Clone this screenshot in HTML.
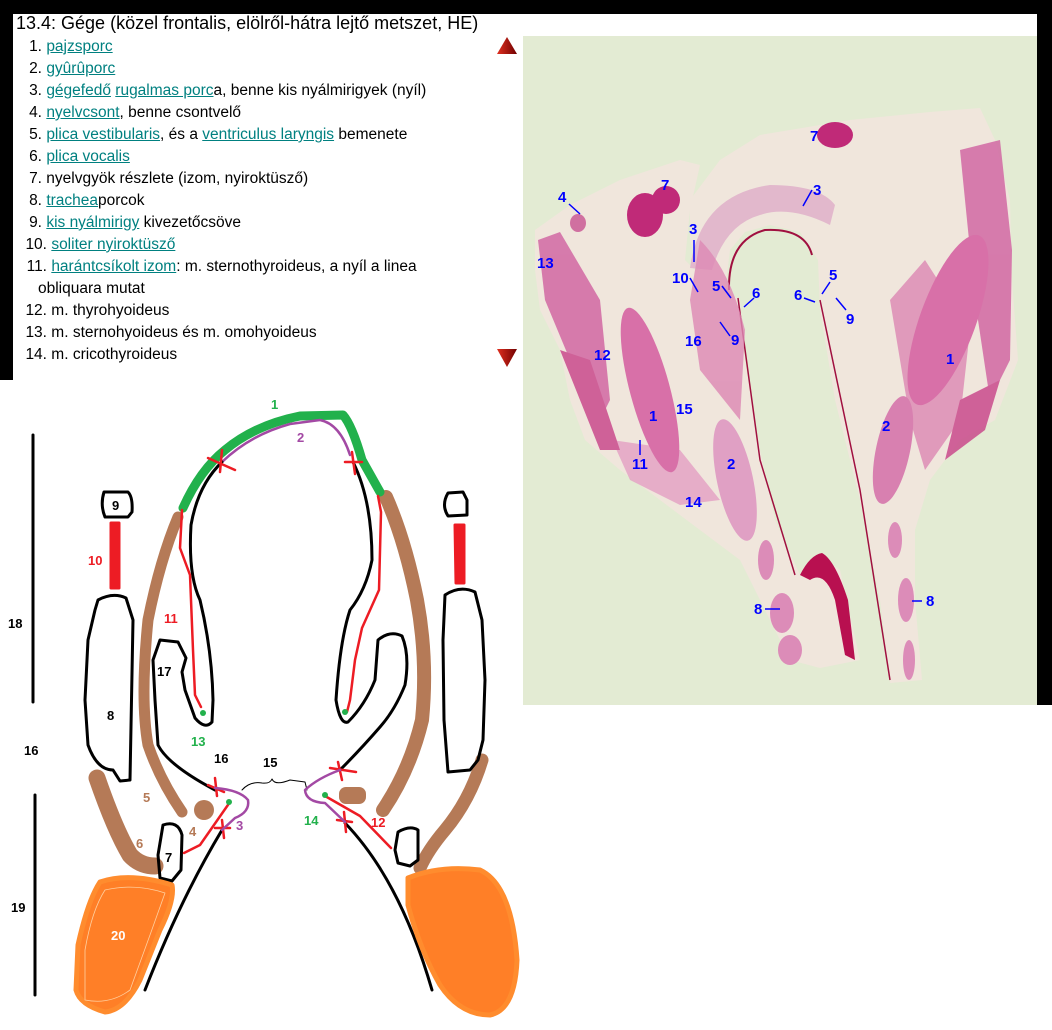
<!DOCTYPE html>
<html><head><meta charset="utf-8">
<style>
body{margin:0;width:1052px;height:1030px;background:#fff;position:relative;overflow:hidden;font-family:"Liberation Sans",sans-serif}
.blk{position:absolute;background:#000}
.t{position:absolute;font-size:15.5px;color:#000;white-space:nowrap;line-height:18px}
.t .n{display:inline-block;width:30px;text-align:right}
a{color:#008080;text-decoration:underline}
svg{position:absolute;left:0;top:0}
</style></head><body>
<div class="blk" style="left:0;top:0;width:1052px;height:14px"></div>
<div class="blk" style="left:0;top:0;width:13px;height:380px"></div>
<div class="blk" style="left:1037px;top:0;width:15px;height:705px"></div>
<div class="t" style="left:16px;top:13px;font-size:18px;line-height:20px">13.4: Gége (közel frontalis, elölről-hátra lejtő metszet, HE)</div>
<div>
<div class="t" style="left:12px;top:38px"><span class="n">1.</span> <a>pajzsporc</a></div>
<div class="t" style="left:12px;top:60px"><span class="n">2.</span> <a>gyûrûporc</a></div>
<div class="t" style="left:12px;top:82px"><span class="n">3.</span> <a>gégefedő</a> <a>rugalmas porc</a>a, benne kis nyálmirigyek (nyíl)</div>
<div class="t" style="left:12px;top:104px"><span class="n">4.</span> <a>nyelvcsont</a>, benne csontvelő</div>
<div class="t" style="left:12px;top:126px"><span class="n">5.</span> <a>plica vestibularis</a>, és a <a>ventriculus laryngis</a> bemenete</div>
<div class="t" style="left:12px;top:148px"><span class="n">6.</span> <a>plica vocalis</a></div>
<div class="t" style="left:12px;top:170px"><span class="n">7.</span> nyelvgyök részlete (izom, nyiroktüsző)</div>
<div class="t" style="left:12px;top:192px"><span class="n">8.</span> <a>trachea</a>porcok</div>
<div class="t" style="left:12px;top:214px"><span class="n">9.</span> <a>kis nyálmirigy</a> kivezetőcsöve</div>
<div class="t" style="left:17px;top:236px"><span class="n">10.</span> <a>soliter nyiroktüsző</a></div>
<div class="t" style="left:17px;top:258px"><span class="n">11.</span> <a>harántcsíkolt izom</a>: m. sternothyroideus, a nyíl a linea</div>
<div class="t" style="left:38px;top:280px">obliquara mutat</div>
<div class="t" style="left:17px;top:302px"><span class="n">12.</span> m. thyrohyoideus</div>
<div class="t" style="left:17px;top:324px"><span class="n">13.</span> m. sternohyoideus és m. omohyoideus</div>
<div class="t" style="left:17px;top:346px"><span class="n">14.</span> m. cricothyroideus</div>
</div>
<svg width="1052" height="1030">
<defs>
<linearGradient id="tri" x1="0" x2="1"><stop offset="0" stop-color="#e03020"/><stop offset="1" stop-color="#700000"/></linearGradient>
</defs>
<polygon points="507,37 497,54 517,54" fill="url(#tri)"/>
<polygon points="497,349 517,349 507,367" fill="url(#tri)"/>
<g>
<rect x="523" y="36" width="514" height="669" fill="#e3ebd3"/>
<path fill="#f0e6dc" d="M535,230 L570,205 L620,180 L680,160 L700,165 L690,210 L685,260 L700,275 L725,290 L740,300 L745,360 L760,450 L775,520 L800,575 L820,555 L840,570 L860,660 L820,668 L790,660 L770,620 L740,560 L700,530 L660,500 L620,470 L585,440 L570,400 L560,350 L540,310 L535,270Z"/>
<path fill="#f0e6dc" d="M690,200 L720,160 L760,135 L850,120 L930,112 L980,108 L995,140 L1010,200 L1012,280 L1018,360 L995,420 L960,440 L930,480 L915,530 L915,600 L922,680 L890,683 L880,600 L860,500 L835,400 L820,310 L818,260 L800,232 L770,225 L745,232 L730,250 L725,290 L700,275 L690,240Z"/>
<path d="M690,268 Q700,195 770,185 Q820,185 835,205 L830,225 Q790,205 760,215 Q725,225 712,270Z" fill="#e2b8cc"/>
<path d="M729,290 Q728,240 765,230 Q805,228 812,255" fill="none" stroke="#a01040" stroke-width="2"/>
<path d="M738,298 L760,460 L795,575 M820,300 L860,490 L890,680" fill="none" stroke="#a01040" stroke-width="1.5"/>
<g fill="#c02a78">
<ellipse cx="645" cy="215" rx="18" ry="22"/>
<ellipse cx="666" cy="200" rx="14" ry="14"/>
<ellipse cx="835" cy="135" rx="18" ry="13"/>
<ellipse cx="578" cy="223" rx="8" ry="9" fill="#d070a0"/>
</g>
<g fill="#d060a0" opacity="0.8">
<path d="M538,240 L560,232 L600,300 L610,400 L600,420 L570,360 L545,300Z"/>
<path d="M960,150 L1000,140 L1012,250 L1010,360 L990,400 L975,300Z"/>
<path d="M700,240 Q730,270 745,330 L740,420 L700,370 L690,300Z" fill="#dd88b4"/>
<path d="M612,440 L680,450 L720,500 L680,505 L630,480Z" fill="#e4a0c4"/>
<path d="M925,260 L970,330 L960,420 L925,470 L910,420 L890,300Z" fill="#dd88b4"/>
<path d="M560,350 L590,360 L620,450 L600,450Z" fill="#c84088"/>
<path d="M960,400 L1000,380 L985,430 L945,460Z" fill="#c84088"/>
</g>
<ellipse cx="650" cy="390" rx="20" ry="85" transform="rotate(-15 650 390)" fill="#d870a8"/>
<ellipse cx="948" cy="320" rx="28" ry="90" transform="rotate(20 948 320)" fill="#d870a8"/>
<ellipse cx="735" cy="480" rx="18" ry="62" transform="rotate(-12 735 480)" fill="#e0a0c4"/>
<ellipse cx="893" cy="450" rx="17" ry="55" transform="rotate(12 893 450)" fill="#d880b0"/>
<g fill="#dc8cb8">
<ellipse cx="766" cy="560" rx="8" ry="20"/><ellipse cx="782" cy="613" rx="12" ry="20"/><ellipse cx="790" cy="650" rx="12" ry="15"/>
<ellipse cx="895" cy="540" rx="7" ry="18"/><ellipse cx="906" cy="600" rx="8" ry="22"/><ellipse cx="909" cy="660" rx="6" ry="20"/>
</g>
<path d="M800,575 Q810,555 822,553 Q835,560 848,600 L855,660 L845,655 L835,600 Q825,570 810,580Z" fill="#b81050"/>
<g font-family="Liberation Sans,sans-serif" font-weight="bold" font-size="15" fill="#0000ff">
<text x="558" y="202">4</text><text x="661" y="190">7</text><text x="810" y="141">7</text><text x="813" y="195">3</text><text x="689" y="234">3</text>
<text x="537" y="268">13</text><text x="672" y="283">10</text><text x="712" y="291">5</text><text x="752" y="298">6</text><text x="829" y="280">5</text><text x="794" y="300">6</text>
<text x="731" y="345">9</text><text x="846" y="324">9</text><text x="685" y="346">16</text><text x="594" y="360">12</text><text x="946" y="364">1</text>
<text x="649" y="421">1</text><text x="676" y="414">15</text><text x="882" y="431">2</text><text x="632" y="469">11</text><text x="727" y="469">2</text>
<text x="685" y="507">14</text><text x="754" y="614">8</text><text x="926" y="606">8</text>
</g>
<g stroke="#0000ff" stroke-width="1.5" fill="none">
<path d="M569,204 L580,214 M690,278 L698,292 M722,286 L731,298 M754,298 L744,307 M830,282 L822,294 M804,298 L815,302 M730,336 L720,322 M846,310 L836,298 M640,455 L640,440 M694,240 L694,262 M812,190 L803,206 M765,609 L780,609 M922,601 L912,601"/>
</g>
</g>
<g fill="none" stroke-linecap="round" stroke-linejoin="round">
<path d="M33,435 L33,702" stroke="#000" stroke-width="3"/>
<path d="M35,795 L35,995" stroke="#000" stroke-width="3"/>
<path d="M178,517 Q160,560 148,620 Q140,700 148,745 Q160,780 182,812" stroke="#b57a57" stroke-width="11"/>
<path d="M386,497 Q405,540 417,600 Q428,660 422,720 Q410,770 383,810" stroke="#b57a57" stroke-width="14"/>
<path d="M97,778 Q115,830 130,855 Q140,866 155,866" stroke="#b57a57" stroke-width="17"/>
<path d="M482,760 Q470,800 445,830 Q428,850 420,868" stroke="#b57a57" stroke-width="13"/>
<ellipse cx="204" cy="810" rx="10" ry="10" fill="#b57a57"/>
<rect x="339" y="787" width="27" height="17" rx="7" fill="#b57a57"/>
<path d="M183,508 Q200,470 225,450 Q255,425 300,416 L343,415 Q352,425 362,460 L380,492" stroke="#22b14c" stroke-width="9"/>
<path d="M222,462 Q250,435 290,424 L320,420 Q340,424 350,455" stroke="#a349a4" stroke-width="2.5"/>
<g stroke="#000" stroke-width="3">
<path d="M222,462 Q198,485 191,525 Q188,575 200,600 Q212,650 213,700 L212,722 Q205,730 195,718 L185,690 L182,672 L186,658 L178,642 L160,640 L153,660 L155,700 L158,745 Q168,765 215,790"/>
<path d="M353,462 Q372,500 372,560 Q366,590 350,610 Q340,640 336,700 Q340,725 348,722 Q365,705 375,680 L378,640 Q390,630 402,636 Q410,655 405,685 Q395,710 380,727 Q360,750 340,770"/>
<path d="M222,830 Q180,900 145,990"/>
<path d="M345,823 Q400,880 432,990"/>
<path d="M104,492 L128,492 Q133,497 132,512 L128,517 L105,517 Q100,505 104,492Z"/>
<path d="M448,493 L463,492 L467,500 L467,515 L448,516 Q441,505 448,493Z"/>
<path d="M98,600 Q113,592 126,598 L133,620 L130,780 L120,781 L113,770 Q97,770 88,745 L85,700 L88,640 L95,610Z"/>
<path d="M445,595 Q460,585 475,592 L482,620 L485,680 L483,740 L478,760 L470,770 L448,772 L444,720 L443,640Z"/>
<path d="M163,825 Q178,820 182,835 L181,870 L172,881 L160,878 L158,855Z"/>
<path d="M398,832 Q410,825 418,830 L418,860 L410,866 L398,863 L395,850Z"/>
<path d="M242,790 Q250,781 262,783 Q270,784 272,779 Q275,786 290,780 L305,782 L307,790" stroke-width="1"/>
</g>
<path d="M111,523 L111,588 L119,588 L119,523Z" fill="#ed1c24" stroke="#ed1c24" stroke-width="3"/>
<path d="M455,525 L456,583 L464,583 L464,525Z" fill="#ed1c24" stroke="#ed1c24" stroke-width="3"/>
<g stroke="#ed1c24" stroke-width="2.5">
<path d="M182,510 L180,548 L190,575 L193,650 L195,695 L201,707"/>
<path d="M378,496 L381,512 L379,590 L362,628 L355,660 L350,700 L347,712"/>
<path d="M184,853 L200,845 L230,802"/>
<path d="M325,796 L360,816 L391,848"/>
<path d="M208,458 L235,470 M222,450 L220,472 M345,462 L362,462 M352,452 L355,474 M208,785 L224,792 M215,778 L217,796 M215,828 L230,828 M222,820 L224,838 M330,768 L356,772 M338,762 L342,780 M337,820 L352,822 M344,812 L346,832"/>
</g>
<path d="M215,788 Q240,790 248,800 Q250,812 235,818 L222,830" stroke="#a349a4" stroke-width="2.5"/>
<path d="M340,770 Q318,778 305,790 Q306,802 325,803 L345,822" stroke="#a349a4" stroke-width="2.5"/>
<g fill="#22b14c"><circle cx="203" cy="713" r="3"/><circle cx="345" cy="712" r="3"/><circle cx="229" cy="802" r="3"/><circle cx="325" cy="795" r="3"/></g>
<path d="M100,882 Q130,872 172,885 Q175,900 160,930 L140,980 Q125,1010 105,1012 Q80,1005 76,990 L78,945 Q88,900 100,882Z" fill="#ff7f27" stroke="#ff8c2e" stroke-width="5"/>
<path d="M408,878 Q440,865 480,870 Q512,885 517,960 Q515,1010 490,1015 Q460,1015 440,985 Q420,950 408,905Z" fill="#ff7f27" stroke="#ff8c2e" stroke-width="5"/>
<path d="M105,890 Q135,883 165,893 L150,935 L130,990 Q110,1005 85,1000 L85,950 Q92,910 105,890Z" stroke="#ffd0a0" stroke-width="0.8"/>
</g>
<g font-family="Liberation Sans,sans-serif" font-weight="bold" font-size="13">
<text x="271" y="409" fill="#22b14c">1</text><text x="297" y="442" fill="#a349a4">2</text>
<text x="88" y="565" fill="#ed1c24">10</text><text x="164" y="623" fill="#ed1c24">11</text>
<text x="157" y="676" fill="#000">17</text><text x="107" y="720" fill="#000">8</text><text x="8" y="628" fill="#000">18</text>
<text x="191" y="746" fill="#22b14c">13</text><text x="214" y="763" fill="#000">16</text><text x="24" y="755" fill="#000">16</text>
<text x="263" y="767" fill="#000">15</text><text x="143" y="802" fill="#b57a57">5</text><text x="189" y="836" fill="#b57a57">4</text>
<text x="236" y="830" fill="#a349a4">3</text><text x="136" y="848" fill="#b57a57">6</text><text x="165" y="862" fill="#000">7</text>
<text x="304" y="825" fill="#22b14c">14</text><text x="371" y="827" fill="#ed1c24">12</text>
<text x="11" y="912" fill="#000">19</text><text x="111" y="940" fill="#fff">20</text><text x="112" y="510" fill="#000">9</text>
</g>
</svg>
</body></html>
